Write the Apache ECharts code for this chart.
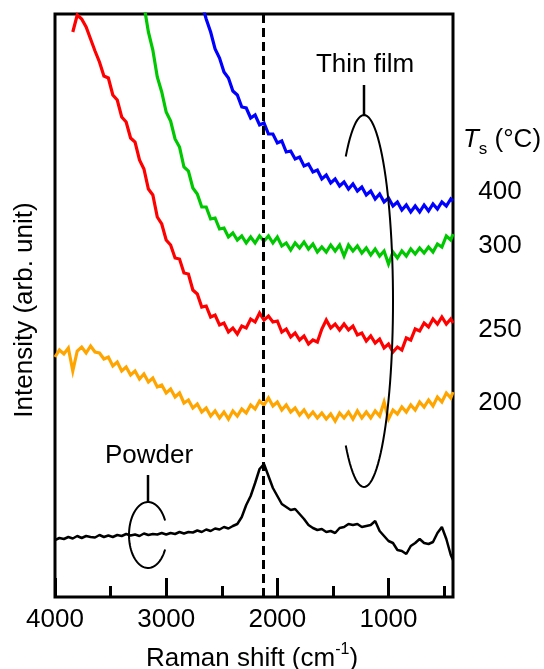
<!DOCTYPE html>
<html><head><meta charset="utf-8">
<script src="https://cdn.jsdelivr.net/npm/echarts@6/dist/echarts.min.js"></script>
<style>html,body{margin:0;padding:0;background:#fff}#c{width:544px;height:669px}</style>
</head><body><div id="c"></div>
<script>
// Raman shift sampling grid (cm^-1)
const wavenumbers = [
  4000,3960,3920,3880,3840,3800,3760,3720,3680,3640,
  3600,3560,3520,3480,3440,3400,3360,3320,3280,3240,
  3200,3160,3120,3080,3040,3000,2960,2920,2880,2840,
  2800,2760,2720,2680,2640,2600,2560,2520,2480,2440,
  2400,2360,2320,2280,2240,2200,2160,2120,2080,2040,
  2000,1960,1920,1880,1840,1800,1760,1720,1680,1640,
  1600,1560,1520,1480,1440,1400,1360,1320,1280,1240,
  1200,1160,1120,1080,1040,1000,960,920,880,840,
  800,760,720,680,640,600,560,520,480,440,
  420
];
// Intensities (arb. unit, offset-stacked as in the figure)
const powder = [
  57,59,58,60,58.5,61,59,61,60,59.5,
  62,60,61.5,60,62,61,63,61.5,62.5,61,
  63.5,62,63,62.5,64,62.5,64,63,65,63.5,
  65,64.5,66.5,65,67.5,66,68.5,67.5,70,68.5,
  71,73,80,92,101,114,128,133,121,109,
  101,93,90,87,88,83,78,72,69,67,
  68,65,66,64,69,70,73,72,73,70,
  71,72,76,66,61,56,54,47,46,43,
  51,54,58,54,53,55,64,70,58,42,
  37
];
const film200 = [
  240,247,243,249,226,246,250,244,251,245,
  244,238,240,231,235,226,230,222,226,218,
  223,215,219,210,212,204,208,200,204,194,
  197,189,193,185,189,181,186,179,185,178,
  186,181,188,184,192,188,196,192,199,191,
  195,187,192,185,189,182,187,180,185,179,
  184,178,183,176,184,179,185,178,186,179,
  185,179,186,181,195,178,187,183,190,185,
  192,187,195,190,197,191,200,195,204,199,
  205
];
const film250 = [
  null,null,null,null,565,582,578,570,558,546,
  535,521,519,502,497,480,475,459,455,437,
  428,408,402,380,373,357,352,339,338,324,
  323,307,303,290,291,280,282,272,274,265,
  269,263,271,269,278,275,284,277,281,275,
  276,265,268,260,264,257,261,253,257,255,
  268,277,269,273,267,273,267,271,262,264,
  256,261,254,258,249,253,245,250,247,259,
  257,268,266,274,270,278,273,280,273,278,
  274
];
const film300 = [
  null,null,null,null,null,null,null,null,null,null,
  null,null,null,null,null,null,null,null,null,null,
  592,565,547,520,505,485,476,458,450,430,
  426,409,403,390,390,378,379,368,369,360,
  364,357,361,354,360,354,361,356,361,354,
  360,351,354,347,354,349,355,348,353,345,
  350,345,352,346,352,341,352,346,351,344,
  349,342,348,341,346,333,345,339,346,341,
  348,343,349,344,350,345,353,350,361,357,
  363
];
const film400 = [
  null,null,null,null,null,null,null,null,null,null,
  null,null,null,null,null,null,null,null,null,null,
  null,null,null,null,null,null,null,null,null,null,
  null,null,null,594,578,565,548,539,525,519,
  506,502,490,489,479,482,472,474,463,463,
  454,456,445,446,438,440,431,433,425,427,
  418,422,414,418,411,415,408,413,406,410,
  402,406,398,403,395,399,391,395,387,392,
  385,391,385,392,386,393,388,395,391,398,
  396
];
const xTicks = [4000, 3000, 2000, 1000];
const xMinorTicks = [3500, 2500, 1500, 500];
const peakPosition = 2125;
const tempLabels = ['400', '300', '250', '200'];
const seriesColors = ['#0000ff', '#00c800', '#ff0000', '#ffa500', '#000000'];

const FONT = '"Liberation Sans", Arial, sans-serif';

function pairs(vals) {
  const out = [];
  wavenumbers.forEach((w, i) => { if (vals[i] != null) out.push([w, vals[i]]); });
  return out;
}

function ellipsePts(cx, cy, rx, ry, a0deg, a1deg) {
  const pts = [];
  const n = 80;
  for (let k = 0; k <= n; k++) {
    const a = (a0deg + (a1deg - a0deg) * k / n) * Math.PI / 180;
    pts.push([cx + rx * Math.cos(a), cy + ry * Math.sin(a)]);
  }
  return pts;
}

function txt(x, y, text, extra) {
  return Object.assign({
    type: 'text', x: x, y: y, silent: true,
    style: Object.assign({
      text: text, font: '26px ' + FONT, fill: '#000',
      textAlign: 'center', textVerticalAlign: 'middle'
    }, (extra && extra.style) || {})
  }, (extra && extra.el) || {});
}

const chart = echarts.init(document.getElementById('c'), null, {renderer: 'canvas'});

const lineSeries = (name, vals, color, extra) => Object.assign({
  name: name, type: 'line', data: pairs(vals), showSymbol: false, symbol: 'none',
  xAxisIndex: 0, yAxisIndex: 0, clip: true,
  lineStyle: {color: color, width: 3.2, join: 'miter'}, itemStyle: {color: color}, z: 3
}, extra || {});

const option = {
  animation: false,
  backgroundColor: '#fff',
  grid: {left: 55, right: 91, top: 14, bottom: 72, show: true, borderColor: '#000', borderWidth: 3, backgroundColor: 'transparent'},
  xAxis: [{
    type: 'value', inverse: true, min: 420, max: 4000,
    axisLine: {show: false}, splitLine: {show: false},
    axisTick: {show: true, inside: true, length: 19, lineStyle: {color: '#000', width: 3}, customValues: xTicks},
    axisLabel: {show: true, customValues: xTicks, fontSize: 26, fontFamily: FONT, color: '#000', margin: 10,
      formatter: function (v) { return String(v); }}
  }, {
    type: 'value', inverse: true, min: 420, max: 4000, position: 'bottom',
    axisLine: {show: false}, splitLine: {show: false},
    axisTick: {show: true, inside: true, length: 11, lineStyle: {color: '#000', width: 3}, customValues: xMinorTicks},
    axisLabel: {show: false}
  }],
  yAxis: {type: 'value', min: 0, max: 583, show: false},
  series: [
    lineSeries('400', film400, seriesColors[0]),
    lineSeries('300', film300, seriesColors[1]),
    lineSeries('250', film250, seriesColors[2]),
    lineSeries('200', film200, seriesColors[3]),
    lineSeries('Powder', powder, seriesColors[4], {
      lineStyle: {color: '#000', width: 2.5},
      markLine: {
        silent: true, symbol: ['none', 'none'], label: {show: false},
        lineStyle: {color: '#000', width: 3, type: [9, 5]},
        data: [{xAxis: peakPosition}]
      }
    })
  ],
  graphic: [
    txt(25, 310, 'Intensity (arb. unit)', {el: {rotation: Math.PI / 2}}),
    {
      type: 'text', x: 252, y: 657, silent: true,
      style: {
        text: '{a|Raman shift (cm}{b|-1}{a|)}',
        textAlign: 'center', textVerticalAlign: 'middle', fill: '#000',
        rich: {
          a: {fontSize: 26, fontFamily: FONT, color: '#000', lineHeight: 30, verticalAlign: 'bottom'},
          b: {fontSize: 16, fontFamily: FONT, color: '#000', lineHeight: 30, verticalAlign: 'top'}
        }
      }
    },
    txt(365, 65, 'Thin film'),
    {type: 'line', silent: true, shape: {x1: 364, y1: 85, x2: 364, y2: 115}, style: {stroke: '#000', lineWidth: 2.5}},
    {type: 'polyline', silent: true, shape: {points: ellipsePts(364, 301, 29, 186, -129, 129)}, style: {stroke: '#000', lineWidth: 2, fill: null}, z: 10},
    txt(149, 456, 'Powder'),
    {type: 'line', silent: true, shape: {x1: 148, y1: 475, x2: 148, y2: 503}, style: {stroke: '#000', lineWidth: 2.5}},
    {type: 'polyline', silent: true, shape: {points: ellipsePts(148, 535, 19, 33, 26, 334)}, style: {stroke: '#000', lineWidth: 2, fill: null}, z: 10},
    {
      type: 'text', x: 502, y: 140, silent: true,
      style: {
        text: '{t|T}{s|s}{a| (°C)}',
        textAlign: 'center', textVerticalAlign: 'middle', fill: '#000',
        rich: {
          t: {fontSize: 26, fontFamily: FONT, fontStyle: 'italic', color: '#000', lineHeight: 36, verticalAlign: 'middle'},
          s: {fontSize: 17, fontFamily: FONT, color: '#000', lineHeight: 36, verticalAlign: 'bottom'},
          a: {fontSize: 26, fontFamily: FONT, color: '#000', lineHeight: 36, verticalAlign: 'middle'}
        }
      }
    },
    txt(500, 192, tempLabels[0]),
    txt(500, 246, tempLabels[1]),
    txt(500, 330, tempLabels[2]),
    txt(500, 403, tempLabels[3])
  ]
};
chart.setOption(option);
</script>
</body></html>
